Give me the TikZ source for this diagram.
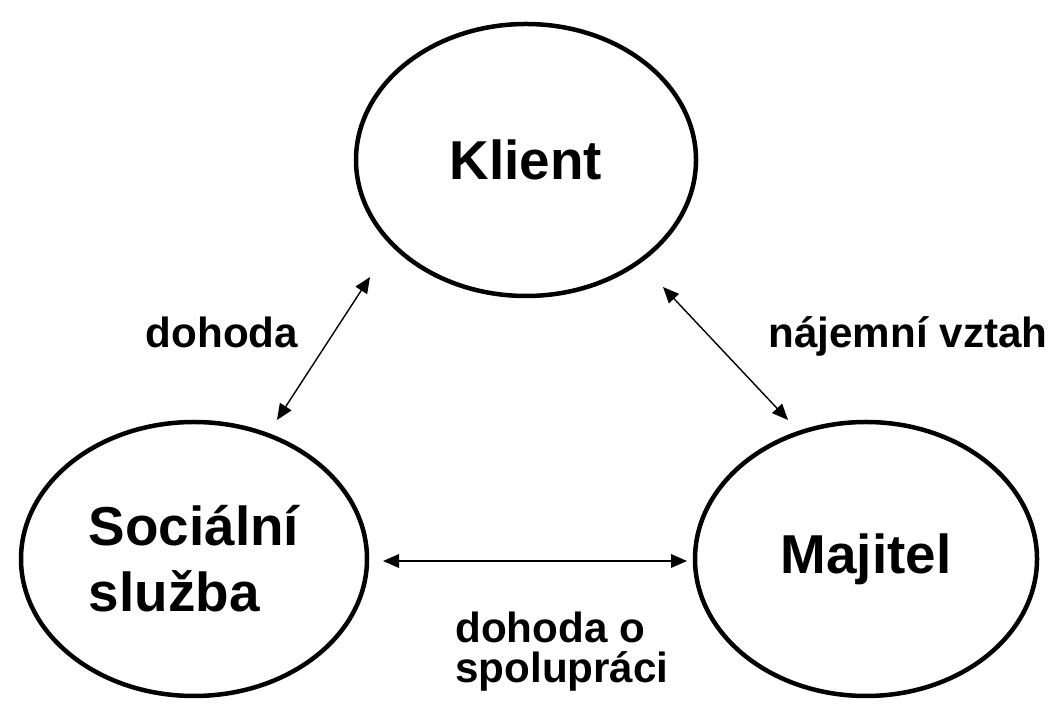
\documentclass[tikz,border=0pt]{standalone}
\usepackage{fontspec}
\setmainfont{Liberation Sans}
\usetikzlibrary{arrows.meta,shapes.geometric}
\tikzset{
  uzel/.style={ellipse,draw,line width=3.2pt,inner sep=0pt,align=left,
    font=\fontsize{39}{47}\selectfont\bfseries},
  popis/.style={inner sep=0pt,align=left,font=\fontsize{30}{28}\selectfont\bfseries},
  sipka/.style={line width=1pt,{Triangle[length=0.4cm,width=0.34cm]}-{Triangle[length=0.4cm,width=0.34cm]}}
}
\begin{document}
\begin{tikzpicture}
\useasboundingbox (0,0) rectangle (26.425,17.65);
% elipsy
\node[uzel,minimum width=8.5cm,minimum height=6.8cm] (klient) at (13.15,13.65) {Klient};
\node[uzel,minimum width=8.65cm,minimum height=6.85cm] (sluzba) at (4.85,3.675) {Sociální\\služba};
\node[uzel,minimum width=8.55cm,minimum height=6.85cm] (majitel) at (21.65,3.675) {Majitel};
% konce sipek
\coordinate (k1) at (9.25,10.725);
\coordinate (s1) at (6.925,7.15);
\coordinate (k2) at (16.575,10.475);
\coordinate (m2) at (19.7,7.15);
\coordinate (s3) at (9.575,3.625);
\coordinate (m3) at (17.175,3.625);
\draw[sipka] (s1) -- (k1);
\draw[sipka] (k2) -- (m2);
\draw[sipka] (s3) -- (m3);
% popisky
\node[popis,anchor=base] (dohoda) at (5.55,8.95) {dohoda};
\node[popis,anchor=base] (najem) at (22.7,8.95) {nájemní vztah};
\node[popis,anchor=north west] (spoluprace) at (11.375,2.35) {dohoda o\\spolupráci};
\end{tikzpicture}
\end{document}
